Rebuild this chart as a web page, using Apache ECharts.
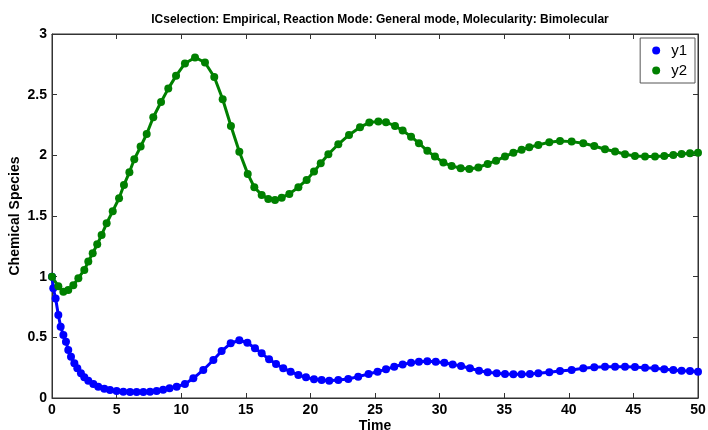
<!DOCTYPE html>
<html>
<head>
<meta charset="utf-8">
<script src="https://cdn.jsdelivr.net/npm/echarts@6/dist/echarts.min.js"></script>
<style>
html,body{margin:0;padding:0;background:#fff;}
#chart{width:708px;height:430px;}
</style>
</head>
<body>
<div id="chart"></div>
<script>
var titleText = 'ICselection: Empirical, Reaction Mode: General mode, Molecularity: Bimolecular';
var xTicks = [0, 5, 10, 15, 20, 25, 30, 35, 40, 45, 50];
var yTicks = [0, 0.5, 1, 1.5, 2, 2.5, 3];
var seriesNames = ['y1', 'y2'];

var tY1 = [0, 0.1, 0.28, 0.49, 0.67, 0.88, 1.08, 1.26, 1.47, 1.73, 1.96, 2.24, 2.5, 2.81, 3.2, 3.58, 4.05, 4.49, 5.0, 5.52, 6.04, 6.55, 7.07, 7.59, 8.1, 8.6, 9.1, 9.65, 10.29, 10.94, 11.71, 12.49, 13.13, 13.83, 14.5, 15.12, 15.71, 16.23, 16.8, 17.34, 17.9, 18.47, 19.07, 19.66, 20.28, 20.87, 21.46, 22.16, 22.93, 23.7, 24.5, 25.2, 25.85, 26.49, 27.14, 27.79, 28.4, 29.05, 29.7, 30.37, 31.01, 31.66, 32.35, 33.05, 33.72, 34.42, 35.06, 35.71, 36.35, 36.99, 37.64, 38.49, 39.32, 40.22, 41.12, 41.97, 42.8, 43.58, 44.35, 45.12, 45.9, 46.67, 47.39, 48.09, 48.73, 49.38, 50];
var vY1 = [1.0, 0.904, 0.82, 0.684, 0.588, 0.519, 0.464, 0.396, 0.34, 0.286, 0.245, 0.204, 0.17, 0.143, 0.115, 0.093, 0.077, 0.066, 0.058, 0.052, 0.049, 0.049, 0.049, 0.052, 0.058, 0.068, 0.08, 0.093, 0.115, 0.162, 0.231, 0.313, 0.387, 0.451, 0.476, 0.455, 0.41, 0.368, 0.319, 0.28, 0.245, 0.217, 0.19, 0.17, 0.154, 0.148, 0.143, 0.148, 0.157, 0.176, 0.198, 0.217, 0.236, 0.258, 0.277, 0.291, 0.299, 0.303, 0.299, 0.291, 0.277, 0.264, 0.245, 0.225, 0.212, 0.204, 0.198, 0.195, 0.195, 0.198, 0.204, 0.212, 0.223, 0.231, 0.245, 0.253, 0.258, 0.258, 0.258, 0.256, 0.25, 0.245, 0.237, 0.231, 0.225, 0.223, 0.217];

var tY2 = [0, 0.49, 0.88, 1.26, 1.65, 2.04, 2.5, 2.81, 3.15, 3.5, 3.84, 4.23, 4.7, 5.19, 5.57, 5.99, 6.37, 6.86, 7.33, 7.84, 8.44, 9.0, 9.6, 10.29, 11.07, 11.84, 12.56, 13.21, 13.85, 14.5, 15.15, 15.66, 16.23, 16.74, 17.26, 17.78, 18.37, 19.07, 19.71, 20.28, 20.8, 21.39, 22.16, 22.99, 23.84, 24.56, 25.26, 25.85, 26.55, 27.14, 27.79, 28.4, 29.05, 29.64, 30.29, 30.93, 31.63, 32.3, 33.0, 33.72, 34.37, 35.06, 35.71, 36.35, 36.94, 37.64, 38.49, 39.32, 40.22, 41.12, 41.97, 42.8, 43.58, 44.35, 45.12, 45.9, 46.67, 47.39, 48.09, 48.73, 49.38, 50];
var vY2 = [1.0, 0.92, 0.876, 0.89, 0.93, 0.987, 1.055, 1.124, 1.193, 1.267, 1.344, 1.44, 1.54, 1.646, 1.756, 1.86, 1.968, 2.072, 2.176, 2.314, 2.44, 2.55, 2.655, 2.757, 2.807, 2.765, 2.646, 2.462, 2.242, 2.03, 1.847, 1.737, 1.674, 1.64, 1.632, 1.651, 1.682, 1.737, 1.797, 1.866, 1.935, 2.009, 2.091, 2.168, 2.232, 2.27, 2.278, 2.273, 2.242, 2.204, 2.154, 2.1, 2.037, 1.99, 1.94, 1.913, 1.894, 1.887, 1.9, 1.929, 1.956, 1.99, 2.022, 2.045, 2.067, 2.086, 2.108, 2.119, 2.113, 2.1, 2.077, 2.05, 2.031, 2.009, 1.995, 1.99, 1.99, 1.995, 2.003, 2.011, 2.017, 2.022];

function pairs(t, v) { return t.map(function (x, i) { return [x, v[i]]; }); }

var chart = echarts.init(document.getElementById('chart'), null, {renderer: 'canvas'});
var axisLine = {show: true, onZero: false, lineStyle: {color: '#333', width: 1}};
var tickIn = {show: true, inside: true, length: 5, lineStyle: {color: '#333'}};
var lblFont = {color: '#000', fontFamily: 'Arial, Liberation Sans, sans-serif', fontWeight: 'bold', fontSize: 14};

chart.setOption({
  animation: false,
  backgroundColor: '#fff',
  title: {
    text: titleText, left: 375, textAlign: 'center', top: 9,
    textStyle: {fontFamily: 'Arial, Liberation Sans, sans-serif', fontWeight: 'bold', fontSize: 12, color: '#000'}
  },
  grid: {left: 52, right: 10, top: 34, bottom: 32, containLabel: false, outerBoundsMode: 'none',
         show: true, borderColor: '#333', borderWidth: 1, backgroundColor: 'transparent'},
  legend: {
    data: seriesNames, orient: 'vertical', right: 13, top: 38,
    icon: 'circle', itemWidth: 8, itemHeight: 8, itemGap: 5,
    padding: [5, 8, 5, 12],
    backgroundColor: '#fff', borderColor: '#555', borderWidth: 1,
    textStyle: {color: '#000', fontFamily: 'Arial, Liberation Sans, sans-serif', fontSize: 15, padding: [0, 0, 0, 6]}
  },
  xAxis: [{
    type: 'value', min: 0, max: 50, interval: 5, position: 'bottom',
    name: 'Time', nameLocation: 'middle', nameGap: 21, nameMoveOverlap: false,
    nameTextStyle: {color: '#000', fontFamily: 'Arial, Liberation Sans, sans-serif', fontWeight: 'bold', fontSize: 14},
    axisLine: axisLine, axisTick: tickIn, splitLine: {show: false},
    axisLabel: Object.assign({margin: 5}, lblFont)
  }, {
    type: 'value', min: 0, max: 50, interval: 5, position: 'top',
    axisLine: axisLine, axisTick: tickIn, splitLine: {show: false}, axisLabel: {show: false}
  }],
  yAxis: [{
    type: 'value', min: 0, max: 3, interval: 0.5, position: 'left',
    name: 'Chemical Species', nameLocation: 'middle', nameGap: 30, nameMoveOverlap: false,
    nameTextStyle: {color: '#000', fontFamily: 'Arial, Liberation Sans, sans-serif', fontWeight: 'bold', fontSize: 14},
    axisLine: axisLine, axisTick: tickIn, splitLine: {show: false},
    axisLabel: Object.assign({margin: 5}, lblFont)
  }, {
    type: 'value', min: 0, max: 3, interval: 0.5, position: 'right',
    axisLine: axisLine, axisTick: tickIn, splitLine: {show: false}, axisLabel: {show: false}
  }],
  series: [{
    name: seriesNames[0], type: 'line', xAxisIndex: 0, yAxisIndex: 0,
    data: pairs(tY1, vY1), color: '#0000ff',
    symbol: 'circle', symbolSize: 8, showSymbol: true,
    lineStyle: {width: 3, color: '#0000ff'}, itemStyle: {color: '#0000ff'}
  }, {
    name: seriesNames[1], type: 'line', xAxisIndex: 0, yAxisIndex: 0,
    data: pairs(tY2, vY2), color: '#008000',
    symbol: 'circle', symbolSize: 8, showSymbol: true,
    lineStyle: {width: 3, color: '#008000'}, itemStyle: {color: '#008000'}
  }, {
    name: 'axes-mirror', type: 'line', xAxisIndex: 1, yAxisIndex: 1,
    data: pairs(tY2, vY2), showSymbol: false, silent: true,
    lineStyle: {opacity: 0}, itemStyle: {opacity: 0}, tooltip: {show: false}
  }]
});
</script>
</body>
</html>
